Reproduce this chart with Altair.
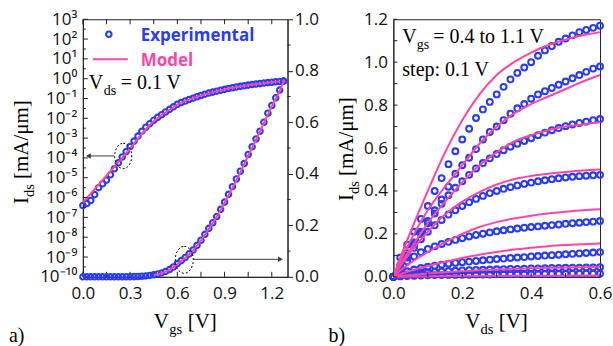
import altair as alt
import pandas as pd

# ---------------- panel a: transfer characteristic, Vds = 0.1 V ----------------
vgs_meas = [0.000, 0.025, 0.050, 0.075, 0.100, 0.125, 0.150, 0.175, 0.200, 0.225,
            0.250, 0.275, 0.300, 0.325, 0.350, 0.375, 0.400, 0.425, 0.450, 0.475,
            0.500, 0.525, 0.550, 0.575, 0.600, 0.625, 0.650, 0.675, 0.700, 0.725,
            0.750, 0.775, 0.800, 0.825, 0.850, 0.875, 0.900, 0.925, 0.950, 0.975,
            1.000, 1.025, 1.050, 1.075, 1.100, 1.125, 1.150, 1.175, 1.200, 1.225,
            1.250, 1.275]
ids_meas = [3.98e-7, 5.01e-7, 7.08e-7, 1.41e-6, 3.16e-6, 5.01e-6, 7.59e-6, 1.41e-5,
            2.82e-5, 5.62e-5, 1.12e-4, 2.09e-4, 3.80e-4, 7.08e-4, 1.26e-3, 2.24e-3,
            3.55e-3, 5.37e-3, 7.94e-3, 1.12e-2, 1.51e-2, 2.09e-2, 2.82e-2, 3.80e-2,
            5.13e-2, 0.063, 0.075, 0.089, 0.104, 0.122, 0.142, 0.165, 0.188, 0.210,
            0.234, 0.262, 0.290, 0.320, 0.350, 0.380, 0.410, 0.440, 0.475, 0.505,
            0.535, 0.565, 0.600, 0.635, 0.665, 0.695, 0.725, 0.760]
vgs_fit = [0.00, 0.05, 0.10, 0.15, 0.20, 0.25, 0.30, 0.35, 0.40, 0.45, 0.50, 0.55,
           0.60, 0.65, 0.70, 0.75, 0.80, 0.85, 0.90, 0.95, 1.00, 1.05, 1.10, 1.15,
           1.20, 1.25, 1.28]
ids_fit = [5.62e-7, 1.58e-6, 4.47e-6, 1.26e-5, 3.55e-5, 1.00e-4, 3.02e-4, 9.55e-4,
           2.82e-3, 7.08e-3, 1.45e-2, 2.69e-2, 4.90e-2, 0.074, 0.103, 0.141, 0.186,
           0.233, 0.288, 0.345, 0.405, 0.470, 0.532, 0.597, 0.662, 0.722, 0.765]

# call-outs: dotted rings and the arrows that point to the axis they belong to
ring_log_vgs, ring_log_id = [0.256], [1.26e-4]
arrow_log_from, arrow_log_to, arrow_log_id = [0.20], [0.035], [1.26e-4]
ring_lin_vgs, ring_lin_id = [0.644], [0.066]
arrow_lin_from, arrow_lin_to, arrow_lin_id = [0.70], [1.255], [0.068]

# axis ticks and labels of panel a
vgs_labels = [0.0, 0.3, 0.6, 0.9, 1.2]
vgs_ticks = [0.0, 0.15, 0.3, 0.45, 0.6, 0.75, 0.9, 1.05, 1.2]
decades = [1e-10, 1e-9, 1e-8, 1e-7, 1e-6, 1e-5, 1e-4, 1e-3, 1e-2, 1e-1, 1e0, 1e1, 1e2, 1e3]
decade_labels = ["10⁻¹⁰", "10⁻⁹", "10⁻⁸", "10⁻⁷", "10⁻⁶", "10⁻⁵", "10⁻⁴", "10⁻³",
                 "10⁻²", "10⁻¹", "10⁰", "10¹", "10²", "10³"]
half_decades = [3.16e-10, 3.16e-9, 3.16e-8, 3.16e-7, 3.16e-6, 3.16e-5, 3.16e-4,
                3.16e-3, 3.16e-2, 3.16e-1, 3.16e0, 3.16e1, 3.16e2]
lin_labels = [0.0, 0.2, 0.4, 0.6, 0.8, 1.0]
lin_minor = [0.1, 0.3, 0.5, 0.7, 0.9]

# ---------------- panel b: output characteristics ----------------
vds_meas = [0.00, 0.02, 0.04, 0.06, 0.08, 0.10, 0.12, 0.14, 0.16, 0.18, 0.20,
            0.22, 0.24, 0.26, 0.28, 0.30, 0.32, 0.34, 0.36, 0.38, 0.40, 0.42,
            0.44, 0.46, 0.48, 0.50, 0.52, 0.54, 0.56, 0.58, 0.60]
meas_11 = [0.00, 0.09, 0.15, 0.21, 0.27, 0.33, 0.40, 0.46, 0.525, 0.585, 0.64, 0.69,
           0.74, 0.78, 0.815, 0.85, 0.885, 0.92, 0.95, 0.975, 1.00, 1.03, 1.055,
           1.075, 1.095, 1.11, 1.125, 1.14, 1.15, 1.16, 1.17]
meas_10 = [0.00, 0.055, 0.11, 0.16, 0.21, 0.26, 0.31, 0.36, 0.42, 0.48, 0.52, 0.555,
           0.595, 0.64, 0.675, 0.70, 0.73, 0.76, 0.785, 0.805, 0.83, 0.85, 0.865,
           0.88, 0.895, 0.91, 0.925, 0.94, 0.955, 0.97, 0.98]
meas_09 = [0.00, 0.05, 0.10, 0.15, 0.20, 0.25, 0.295, 0.34, 0.38, 0.415, 0.445, 0.475,
           0.505, 0.53, 0.552, 0.572, 0.59, 0.606, 0.62, 0.633, 0.646, 0.66, 0.672,
           0.683, 0.693, 0.702, 0.71, 0.717, 0.723, 0.73, 0.735]
meas_08 = [0.00, 0.045, 0.09, 0.135, 0.175, 0.21, 0.24, 0.265, 0.29, 0.31, 0.33, 0.348,
           0.363, 0.377, 0.39, 0.40, 0.41, 0.418, 0.426, 0.433, 0.439, 0.445, 0.45,
           0.455, 0.459, 0.463, 0.466, 0.469, 0.471, 0.473, 0.475]
meas_07 = [0.00, 0.04, 0.072, 0.095, 0.115, 0.13, 0.142, 0.153, 0.163, 0.172, 0.18,
           0.188, 0.195, 0.201, 0.207, 0.212, 0.217, 0.221, 0.225, 0.229, 0.232, 0.235,
           0.238, 0.241, 0.244, 0.247, 0.25, 0.252, 0.255, 0.257, 0.26]
meas_06 = [0.0, 0.015, 0.026, 0.034, 0.041, 0.047, 0.052, 0.057, 0.061, 0.065, 0.068,
           0.071, 0.074, 0.077, 0.08, 0.083, 0.085, 0.088, 0.09, 0.092, 0.095, 0.097,
           0.099, 0.101, 0.103, 0.105, 0.107, 0.109, 0.111, 0.113, 0.115]
meas_05 = [0.0, 0.006, 0.011, 0.015, 0.018, 0.021, 0.023, 0.025, 0.027, 0.028, 0.03,
           0.031, 0.032, 0.033, 0.034, 0.035, 0.036, 0.037, 0.037, 0.038, 0.039, 0.039,
           0.04, 0.041, 0.041, 0.042, 0.043, 0.043, 0.044, 0.044, 0.045]
meas_04 = [0.0, 0.002, 0.004, 0.005, 0.006, 0.007, 0.008, 0.008, 0.009, 0.009, 0.01,
           0.01, 0.011, 0.011, 0.011, 0.012, 0.012, 0.012, 0.013, 0.013, 0.013, 0.013,
           0.014, 0.014, 0.014, 0.014, 0.015, 0.015, 0.015, 0.015, 0.015]

vds_fit = [0.0, 0.025, 0.05, 0.10, 0.15, 0.20, 0.25, 0.30, 0.35, 0.40, 0.45, 0.50, 0.55, 0.60]
fit_11 = [0.0, 0.11, 0.21, 0.40, 0.58, 0.73, 0.85, 0.94, 1.00, 1.045, 1.08, 1.105, 1.125, 1.14]
fit_10 = [0.0, 0.09, 0.17, 0.31, 0.42, 0.52, 0.62, 0.70, 0.76, 0.805, 0.84, 0.875, 0.91, 0.94]
fit_09 = [0.0, 0.07, 0.13, 0.25, 0.35, 0.44, 0.52, 0.58, 0.63, 0.66, 0.683, 0.70, 0.71, 0.72]
fit_08 = [0.0, 0.06, 0.115, 0.21, 0.29, 0.35, 0.395, 0.43, 0.455, 0.47, 0.48, 0.488, 0.495, 0.50]
fit_07 = [0.0, 0.035, 0.065, 0.115, 0.16, 0.20, 0.232, 0.255, 0.272, 0.285, 0.295, 0.303, 0.31, 0.315]
fit_06 = [0.0, 0.015, 0.028, 0.05, 0.07, 0.088, 0.103, 0.116, 0.127, 0.136, 0.143, 0.148, 0.152, 0.155]
fit_05 = [0.0, 0.004, 0.008, 0.015, 0.021, 0.026, 0.031, 0.034, 0.037, 0.040, 0.042, 0.044, 0.045, 0.046]
fit_04 = [0.0, 0.0006, 0.001, 0.002, 0.003, 0.0035, 0.004, 0.0045, 0.005, 0.005, 0.0055, 0.0055, 0.006, 0.006]

gate_steps = [0.4, 0.5, 0.6, 0.7, 0.8, 0.9, 1.0, 1.1]
meas_curves = [meas_04, meas_05, meas_06, meas_07, meas_08, meas_09, meas_10, meas_11]
fit_curves = [fit_04, fit_05, fit_06, fit_07, fit_08, fit_09, fit_10, fit_11]

vds_labels = [0.0, 0.2, 0.4, 0.6]
vds_ticks = [0.0, 0.1, 0.2, 0.3, 0.4, 0.5, 0.6]
out_labels = [0.0, 0.2, 0.4, 0.6, 0.8, 1.0, 1.2]
out_ticks = [0.0, 0.1, 0.2, 0.3, 0.4, 0.5, 0.6, 0.7, 0.8, 0.9, 1.0, 1.1, 1.2]

# ---------------- styling ----------------
BLUE = "#2b3df2"
PINK = "#ff45a5"
INK = "#222222"
ARROW = "#3a3a3a"
SANS = "Open Sans"
SERIF = "Liberation Serif"
W_A, W_B, H = 205, 207, 258
T_MAIN, T_SUB = 21, 14.5
A_MAIN, A_SUB = 20, 14
RING = "M0,-1.5A1,1.5,0,1,1,0,1.5A1,1.5,0,1,1,0,-1.5Z"

one = pd.DataFrame({"k": [0]})


def label(s, x, y, size=A_MAIN, font=SERIF, color="black", weight="normal",
          angle=0, baseline="alphabetic"):
    return alt.Chart(one).mark_text(
        text=s, fontSize=size, font=font, color=color, fontWeight=weight,
        angle=angle, align="left", baseline=baseline,
    ).encode(x=alt.value(x), y=alt.value(y))


def circles(df, x, y, size=30):
    return alt.Chart(df).mark_point(
        shape="circle", size=size, filled=False, color=BLUE, strokeWidth=2.1, opacity=1
    ).encode(x=x, y=y)


# ---------------- panel a ----------------
meas_a = pd.DataFrame({"vgs": vgs_meas, "id": ids_meas})
fit_a = pd.DataFrame({"vgs": vgs_fit, "id": ids_fit})

x_axis_a = alt.Axis(values=vgs_labels, format=".1f", title=None, ticks=False,
                    labelPadding=9, grid=False, labelFlush=False)
x_a = alt.X("vgs:Q", scale=alt.Scale(domain=[0, 1.3], nice=False, zero=False), axis=x_axis_a)

label_lookup = "[" + ",".join("'%s'" % s for s in decade_labels) + "][round(log(datum.value)/LN10)+10]"
y_axis_log = alt.Axis(values=decades, labelExpr=label_lookup, title=None, ticks=False,
                      labelPadding=6, grid=False, orient="left", labelFlush=False)
y_log = alt.Y("id:Q", scale=alt.Scale(type="log", domain=[1e-10, 1e3], nice=False),
              axis=y_axis_log)

y_axis_lin = alt.Axis(values=lin_labels, format=".1f", title=None, ticks=True,
                      tickSize=5, tickColor=INK, labelPadding=2, grid=False, orient="right",
                      labelFlush=False)
y_lin = alt.Y("id:Q", scale=alt.Scale(domain=[0, 1.0], nice=False), axis=y_axis_lin)

ticks_x_a = pd.DataFrame({"vgs": vgs_ticks})
tick_bottom_a = alt.Chart(ticks_x_a).mark_rule(color=INK, strokeWidth=1).encode(
    x=x_a, y=alt.value(H), y2=alt.value(H - 5))
tick_top_a = alt.Chart(ticks_x_a).mark_rule(color=INK, strokeWidth=1).encode(
    x=x_a, y=alt.value(0), y2=alt.value(5))
tick_dec = alt.Chart(pd.DataFrame({"id": decades})).mark_rule(color=INK, strokeWidth=1).encode(
    y=y_log, x=alt.value(0), x2=alt.value(5))
tick_half = alt.Chart(pd.DataFrame({"id": half_decades})).mark_rule(color=INK, strokeWidth=1).encode(
    y=y_log, x=alt.value(0), x2=alt.value(3))

ring_log = alt.Chart(pd.DataFrame({"vgs": ring_log_vgs, "id": ring_log_id})).mark_point(
    shape=RING, size=289, filled=False, color="black", strokeWidth=1, strokeDash=[2, 2], opacity=1
).encode(x=x_a, y=y_log)
arrow_log = alt.Chart(pd.DataFrame({"vgs": arrow_log_from, "end": arrow_log_to, "id": arrow_log_id})).mark_rule(
    color=ARROW, strokeWidth=1).encode(x=x_a, x2="end:Q", y=y_log)
head_log = alt.Chart(pd.DataFrame({"vgs": arrow_log_to, "id": arrow_log_id})).mark_point(
    shape="triangle-left", size=30, filled=True, color=ARROW, opacity=1).encode(x=x_a, y=y_log)

log_part = alt.layer(
    circles(meas_a, x_a, y_log),
    alt.Chart(fit_a).mark_line(color=PINK, strokeWidth=2, interpolate="monotone").encode(x=x_a, y=y_log),
    tick_dec, tick_half, tick_bottom_a, tick_top_a, ring_log, arrow_log, head_log,
)

tick_lin = alt.Chart(pd.DataFrame({"id": lin_minor})).mark_rule(color=INK, strokeWidth=1).encode(
    y=y_lin, x=alt.value(W_A), x2=alt.value(W_A + 3))
ring_lin = alt.Chart(pd.DataFrame({"vgs": ring_lin_vgs, "id": ring_lin_id})).mark_point(
    shape=RING, size=324, filled=False, color="black", strokeWidth=1, strokeDash=[2, 2], opacity=1
).encode(x=x_a, y=y_lin)
arrow_lin = alt.Chart(pd.DataFrame({"vgs": arrow_lin_from, "end": arrow_lin_to, "id": arrow_lin_id})).mark_rule(
    color=ARROW, strokeWidth=1).encode(x=x_a, x2="end:Q", y=y_lin)
head_lin = alt.Chart(pd.DataFrame({"vgs": arrow_lin_to, "id": arrow_lin_id})).mark_point(
    shape="triangle-right", size=30, filled=True, color=ARROW, opacity=1).encode(x=x_a, y=y_lin)

lin_part = alt.layer(
    circles(meas_a, x_a, y_lin),
    alt.Chart(fit_a).mark_line(color=PINK, strokeWidth=2, interpolate="monotone")
    .transform_filter("datum.vgs >= 0.45").encode(x=x_a, y=y_lin),
    tick_lin, ring_lin, arrow_lin, head_lin,
)

legend_a = alt.layer(
    alt.Chart(one).mark_point(shape="circle", size=30, filled=False, color=BLUE,
                              strokeWidth=2.1, opacity=1).encode(x=alt.value(26), y=alt.value(15)),
    label("Experimental", 58, 22, size=17, font=SANS, color=BLUE, weight="bold"),
    alt.Chart(one).mark_rule(color=PINK, strokeWidth=2).encode(
        x=alt.value(10), x2=alt.value(45), y=alt.value(40)),
    label("Model", 58, 47, size=17, font=SANS, color=PINK, weight="bold"),
    label("V", 6, 70), label("ds", 21, 76, size=A_SUB), label("= 0.1 V", 38, 70),
    # axis titles
    label("V", 71, 309, size=T_MAIN), label("gs", 86.5, 315, size=T_SUB),
    label("[V]", 105, 309, size=T_MAIN),
    label("I", -55, 185, size=T_MAIN, angle=270),
    label("ds", -49, 178, size=T_SUB, angle=270),
    label("[mA/μm]", -55, 160, size=T_MAIN, angle=270),
    label("a)", -74, 323, size=20),
)

panel_a = alt.layer(log_part, lin_part, legend_a).resolve_scale(y="independent").properties(
    width=W_A, height=H)

# ---------------- panel b ----------------
meas_b = pd.DataFrame({
    "vds": vds_meas * len(gate_steps),
    "id": [v for curve in meas_curves for v in curve],
    "vgs": [g for g in gate_steps for _ in vds_meas],
})
fit_b = pd.DataFrame({
    "vds": vds_fit * len(gate_steps),
    "id": [v for curve in fit_curves for v in curve],
    "vgs": [g for g in gate_steps for _ in vds_fit],
})

x_axis_b = alt.Axis(values=vds_labels, format=".1f", title=None, ticks=False,
                    labelPadding=9, grid=False, labelFlush=False)
x_b = alt.X("vds:Q", scale=alt.Scale(domain=[0, 0.6], nice=False), axis=x_axis_b)
y_axis_b = alt.Axis(values=out_labels, format=".1f", title=None, ticks=False,
                    labelPadding=6, grid=False, labelFlush=False)
y_b = alt.Y("id:Q", scale=alt.Scale(domain=[0, 1.2], nice=False), axis=y_axis_b)

tick_bottom_b = alt.Chart(pd.DataFrame({"vds": vds_ticks})).mark_rule(color=INK, strokeWidth=1).encode(
    x=x_b, y=alt.value(H), y2=alt.value(H - 4))
tick_left_b = alt.Chart(pd.DataFrame({"id": out_ticks})).mark_rule(color=INK, strokeWidth=1).encode(
    y=y_b, x=alt.value(0), x2=alt.value(4))

panel_b = alt.layer(
    circles(meas_b, x_b, y_b, size=34),
    alt.Chart(fit_b).mark_line(color=PINK, strokeWidth=2, interpolate="monotone").encode(
        x=x_b, y=y_b, detail="vgs:N"),
    tick_bottom_b, tick_left_b,
    label("V", 9, 24), label("gs", 23.5, 30, size=A_SUB), label("= 0.4 to 1.1 V", 40, 24),
    label("step: 0.1 V", 9, 57),
    label("V", 72, 309, size=T_MAIN), label("ds", 87.2, 315, size=T_SUB),
    label("[V]", 105.5, 309, size=T_MAIN),
    label("I", -40, 182, size=T_MAIN, angle=270),
    label("ds", -34, 175, size=T_SUB, angle=270),
    label("[mA/μm]", -40, 157, size=T_MAIN, angle=270),
    label("b)", -65, 323, size=20),
).properties(width=W_B, height=H)

chart = alt.hconcat(panel_a, panel_b, spacing=106, bounds="flush").properties(
    padding={"left": 8, "top": 9, "right": 0, "bottom": 0},
    background="white",
).configure_view(stroke=INK, strokeWidth=1).configure_axis(
    labelFont=SANS, labelFontSize=17, labelColor="#111111",
    domainColor=INK, domainWidth=1, labelFlush=False,
)

chart.save("out.html", embed_options={"renderer": "svg", "actions": False})
